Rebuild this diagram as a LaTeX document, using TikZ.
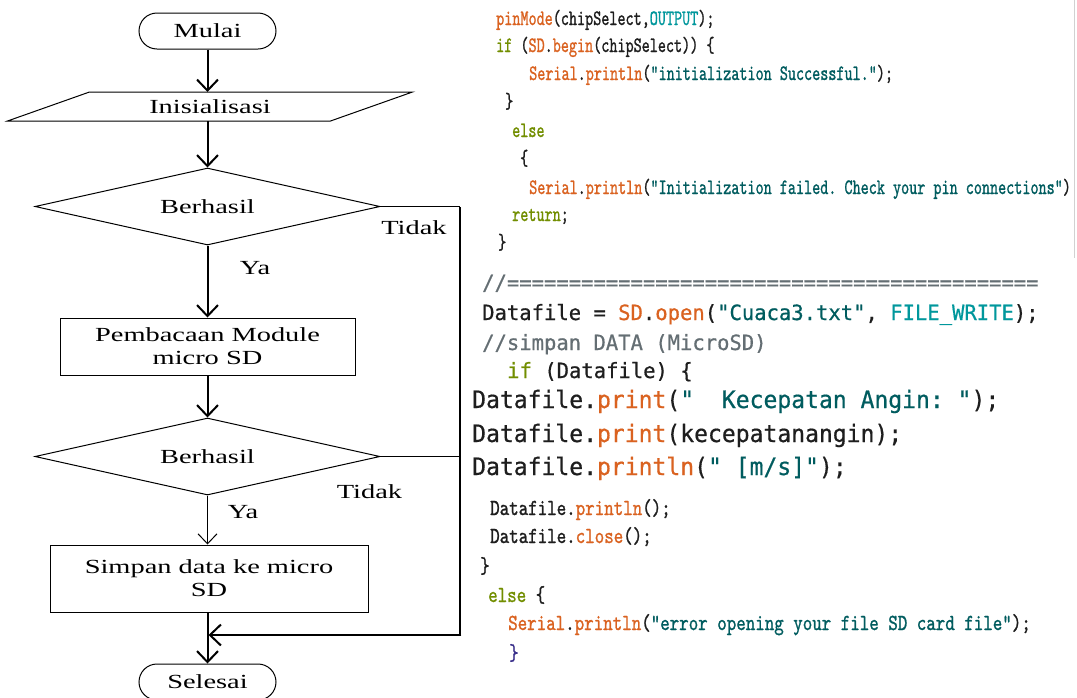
\documentclass[tikz,border=0pt]{standalone}
\usepackage{fontspec}
\setmainfont{Liberation Serif}
\newfontfamily\fcfont{Liberation Serif}[FakeStretch=1.42]
\newfontfamily\codeMfam{DejaVu Sans Mono}[FakeStretch=0.978,FakeBold=0.6]
\newfontfamily\codeLfam{DejaVu Sans Mono}[FakeStretch=0.96,FakeBold=0.6]
\newfontfamily\codeAfam{lmmono10-regular.otf}[FakeStretch=0.70,FakeBold=1.0]
\newfontfamily\codeBfam{lmmono10-regular.otf}[FakeStretch=0.787,FakeBold=1.0]
\usetikzlibrary{shapes.geometric,arrows.meta}
\definecolor{ardfn}{RGB}{218,98,32}
\definecolor{ardconst}{RGB}{0,151,156}
\definecolor{ardstr}{RGB}{0,92,95}
\definecolor{ardkw}{RGB}{114,142,0}
\definecolor{ardcom}{RGB}{100,110,115}
\definecolor{ardtxt}{RGB}{30,30,30}
\definecolor{ardbr}{RGB}{60,50,140}
\newcommand{\cdfn}[1]{\textcolor{ardfn}{#1}}
\newcommand{\cdconst}[1]{\textcolor{ardconst}{#1}}
\newcommand{\cdstr}[1]{\textcolor{ardstr}{#1}}
\newcommand{\cdkw}[1]{\textcolor{ardkw}{#1}}
\newcommand{\cdcom}[1]{\textcolor{ardcom}{#1}}
\frenchspacing
\begin{document}
\begin{tikzpicture}[x=1pt,y=-1pt,
  flowtext/.style={font=\fcfont\fontsize{20}{23}\selectfont, align=center},
  term/.style={flowtext, draw, line width=1pt, rounded corners=18pt, minimum width=137pt, minimum height=36pt, inner sep=0pt},
  procbox/.style={flowtext, draw, line width=1pt, minimum height=57pt, inner sep=0pt},
  decision/.style={flowtext, diamond, aspect=4.48, draw, line width=1pt, minimum width=345pt, minimum height=77pt, inner sep=0pt},
  lbl/.style={flowtext, inner sep=0pt},
  flowarrow/.style={line width=2pt, -{Straight Barb[length=11pt,width=21pt]}},
  thinarrow/.style={line width=1pt, -{Straight Barb[length=10pt,width=19pt]}},
  codeTop/.style={anchor=base west, inner sep=0pt, text=ardtxt, font=\codeAfam\fontsize{22}{26}\selectfont},
  codeBot/.style={anchor=base west, inner sep=0pt, text=ardtxt, font=\codeBfam\fontsize{23}{27}\selectfont},
  codeMid/.style={anchor=base west, inner sep=0pt, text=ardtxt, font=\codeMfam\fontsize{21}{25}\selectfont},
  codeBig/.style={anchor=base west, inner sep=0pt, text=ardtxt, font=\codeLfam\fontsize{24}{28}\selectfont}
]
\fill[white] (0,0) rectangle (1077,697);
\useasboundingbox (0,0) rectangle (1077,697);

% ---------------- flowchart ----------------
\node[term] (mulai) at (207.5,31) {Mulai};
\node[flowtext, minimum width=323pt, minimum height=29pt, inner sep=0pt, outer sep=0pt] (ini) at (210,106.5) {Inisialisasi};
\draw[line width=1pt] ([xshift=41pt]ini.north west) -- ([xshift=41pt]ini.north east)
  -- ([xshift=-41pt]ini.south east) -- ([xshift=-41pt]ini.south west) -- cycle;
\node[decision] (d1) at (207.5,206.5) {Berhasil};
\node[procbox, minimum width=295pt] (r1) at (207.5,346.5) {Pembacaan Module\\micro SD};
\node[decision] (d2) at (207.5,456.5) {Berhasil};
\node[procbox, minimum width=318pt, minimum height=67pt] (r2) at (209,578.5) {Simpan data ke micro\\SD};
\node[term] (sel) at (207.5,682) {Selesai};

\coordinate (c1) at (460,206.5);
\coordinate (c3) at (460,456.5);
\coordinate (c2) at (460,635);
\coordinate (jn) at (208.5,635);

\draw[flowarrow] (mulai.south) -- (mulai.south |- ini.north);
\draw[flowarrow] (d1.north |- ini.south) -- (d1.north);
\draw[flowarrow] (d1.south) -- (r1.north);
\draw[flowarrow] (r1.south) -- (d2.north);
\draw[thinarrow] (d2.south) -- (d2.south |- r2.north);
\draw[flowarrow] (sel.north |- r2.south) -- (sel.north);
\draw[line width=1pt] (d1.east) -- (c1);
\draw[line width=1pt] (d2.east) -- (c3);
\draw[line width=2.5pt] ([yshift=-0.5pt]c1) -- (c2);
\draw[flowarrow] ([xshift=1.25pt]c2) -- (jn);

\node[lbl] (ya1) at (255,268.5) {Ya};
\node[lbl] (ya2) at (243,512) {Ya};
\node[lbl] (td1) at (414,228) {Tidak};
\node[lbl] (td2) at (369.5,492) {Tidak};

% ---------------- code: top ----------------
\draw[black!18, line width=1pt] (1074,0) -- (1074,258);
\node[codeTop] (t1) at (496,25) {\cdfn{pinMode}(chipSelect,\cdconst{OUTPUT});};
\node[codeTop] (t2) at (496,52) {\cdkw{if} (\cdfn{SD}.\cdfn{begin}(chipSelect)) \{};
\node[codeTop] (t3) at (529,80) {\cdfn{Serial}.\cdfn{println}(\cdstr{"initialization Successful."});};
\node[codeTop] (t4) at (505,108) {\}};
\node[codeTop] (t5) at (512,137) {\cdkw{else}};
\node[codeTop] (t6) at (520,165) {\{};
\node[codeTop] (t7) at (529,194) {\cdfn{Serial}.\cdfn{println}(\cdstr{"Initialization failed. Check your pin connections"})};
\node[codeTop] (t8) at (512,221) {\cdkw{return};};
\node[codeTop] (t9) at (498,249) {\}};

% ---------------- code: middle ----------------
\node[codeMid] (m1) at (482,290) {\cdcom{//===========================================}};
\node[codeMid] (m2) at (482,320) {Datafile = \cdfn{SD}.\cdfn{open}(\cdstr{"Cuaca3.txt"}, \cdconst{FILE\_WRITE});};
\node[codeMid] (m3) at (482,350) {\cdcom{//simpan DATA (MicroSD)}};
\node[codeMid] (m4) at (507,378) {\cdkw{if} (Datafile) \{};
\node[codeBig] (m5) at (472,408) {Datafile.\cdfn{print}(\cdstr{"\ \ Kecepatan Angin:\ "});};
\node[codeBig] (m6) at (472,442) {Datafile.\cdfn{print}(kecepatanangin);};
\node[codeBig] (m7) at (472,475) {Datafile.\cdfn{println}(\cdstr{"\ [m/s]"});};

% ---------------- code: bottom ----------------
\node[codeBot] (b1) at (490,515) {Datafile.\cdfn{println}();};
\node[codeBot] (b2) at (490,543) {Datafile.\cdfn{close}();};
\node[codeBot] (b3) at (480,573) {\}};
\node[codeBot] (b4) at (488,602) {\cdkw{else} \{};
\node[codeBot] (b5) at (508,630) {\cdfn{Serial}.\cdfn{println}(\cdstr{"error opening your file SD card file"});};
\node[codeBot, text=ardbr] (b6) at (509,660) {\}};
\end{tikzpicture}
\end{document}
